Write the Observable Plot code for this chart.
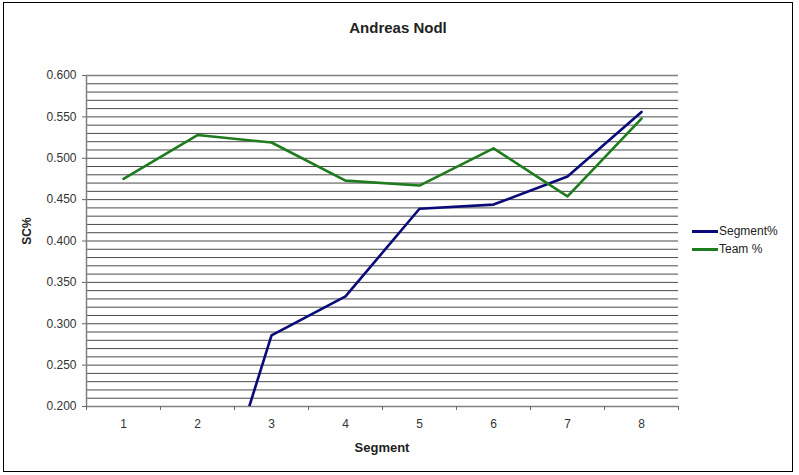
<!DOCTYPE html>
<html>
<head>
<meta charset="utf-8">
<script src="https://cdn.jsdelivr.net/npm/d3@7"></script>
<script src="https://cdn.jsdelivr.net/npm/@observablehq/plot@0.6"></script>
<style>
  html, body { margin: 0; padding: 0; background: #fff; }
  #wrap { position: relative; width: 799px; height: 475px; overflow: hidden; font-family: "Liberation Sans", Arial, sans-serif; color: #222; }
  #frame { position: absolute; left: 3px; top: 2px; width: 790px; height: 470px; border: 1.5px solid #000; box-sizing: border-box; pointer-events: none; }
  #chart { position: absolute; left: 0; top: 0; }
  .title { position: absolute; left: 3px; width: 790px; top: 20px; text-align: center; font-weight: bold; font-size: 15px; line-height: 15px; }
  .xlabel { position: absolute; left: 86px; width: 592px; top: 441px; text-align: center; font-weight: bold; font-size: 13px; line-height: 13px; }
  .ylabel { position: absolute; left: 27px; top: 231px; transform: translate(-50%, -50%) rotate(-90deg); font-weight: bold; font-size: 12px; line-height: 12px; white-space: nowrap; }
  .legend { position: absolute; left: 692px; top: 222px; font-size: 12px; line-height: 18px; }
  .legend .row { display: flex; align-items: center; height: 18px; }
  .legend .sw { width: 26px; height: 3px; margin-right: 1px; }
</style>
</head>
<body>
<div id="wrap">
  <div id="chart"></div>
  <div class="title" id="title"></div>
  <div class="xlabel" id="xlabel"></div>
  <div class="ylabel" id="ylabel"></div>
  <div class="legend" id="legend"></div>
  <div id="frame"></div>
</div>
<script>
const chartTitle = "Andreas Nodl";
const xTitle = "Segment";
const yTitle = "SC%";
const segments = [1, 2, 3, 4, 5, 6, 7, 8];
const seriesNames = ["Segment%", "Team %"];
const segmentPct = [0.000, 0.000, 0.286, 0.333, 0.439, 0.444, 0.478, 0.556];
const teamPct = [0.475, 0.528, 0.519, 0.473, 0.467, 0.512, 0.454, 0.548];
const yTicks = [0.200, 0.250, 0.300, 0.350, 0.400, 0.450, 0.500, 0.550, 0.600];
const yMinorStep = 0.01;

const colors = ["#0a0a78", "#1e7b1e"];

const rows = [];
segments.forEach((s, i) => {
  rows.push({segment: s, value: segmentPct[i], series: seriesNames[0]});
  rows.push({segment: s, value: teamPct[i], series: seriesNames[1]});
});

const yLo = yTicks[0], yHi = yTicks[yTicks.length - 1];
const gridTicks = d3.range(Math.round((yHi - yLo) / yMinorStep) + 1).map(k => +(yLo + k * yMinorStep).toFixed(3));
const boundaries = [segments[0] - 0.5, ...segments.map(s => s + 0.5)];

const plot = Plot.plot({
  width: 799,
  height: 475,
  marginLeft: 86,
  marginRight: 121,
  marginTop: 75,
  marginBottom: 69,
  x: {type: "linear", domain: [boundaries[0], boundaries[boundaries.length - 1]]},
  y: {domain: [yLo, yHi]},
  color: {domain: seriesNames, range: colors},
  style: {fontFamily: "'Liberation Sans', Arial, sans-serif", fontSize: "12px", background: "transparent", color: "#333"},
  marks: [
    Plot.gridY(gridTicks, {stroke: "#4a4a4a", strokeOpacity: 1, strokeWidth: 1}),
    Plot.ruleY([yLo, yHi], {stroke: "#808080", strokeWidth: 1.5}),
    Plot.ruleX([boundaries[0]], {stroke: "#808080", strokeWidth: 1.5}),
    Plot.axisY({ticks: yTicks, tickFormat: d3.format(".3f"), tickSize: 4, tickPadding: 6, stroke: "#666", label: null, fill: "#333"}),
    Plot.axisX({ticks: segments, tickSize: 0, tickPadding: 13, tickFormat: d3.format("d"), label: null, fill: "#333"}),
    Plot.axisX({ticks: boundaries, tickSize: 4, tickFormat: () => "", stroke: "#666", label: null}),
    Plot.lineY(rows, {x: "segment", y: "value", stroke: "series", z: "series", strokeWidth: 2.6, clip: true})
  ]
});
document.getElementById("chart").appendChild(plot);

document.getElementById("title").textContent = chartTitle;
document.getElementById("xlabel").textContent = xTitle;
document.getElementById("ylabel").textContent = yTitle;
const legend = document.getElementById("legend");
seriesNames.forEach((name, i) => {
  const row = document.createElement("div");
  row.className = "row";
  const sw = document.createElement("div");
  sw.className = "sw";
  sw.style.background = colors[i];
  const tx = document.createElement("span");
  tx.textContent = name;
  row.appendChild(sw);
  row.appendChild(tx);
  legend.appendChild(row);
});
</script>
</body>
</html>
